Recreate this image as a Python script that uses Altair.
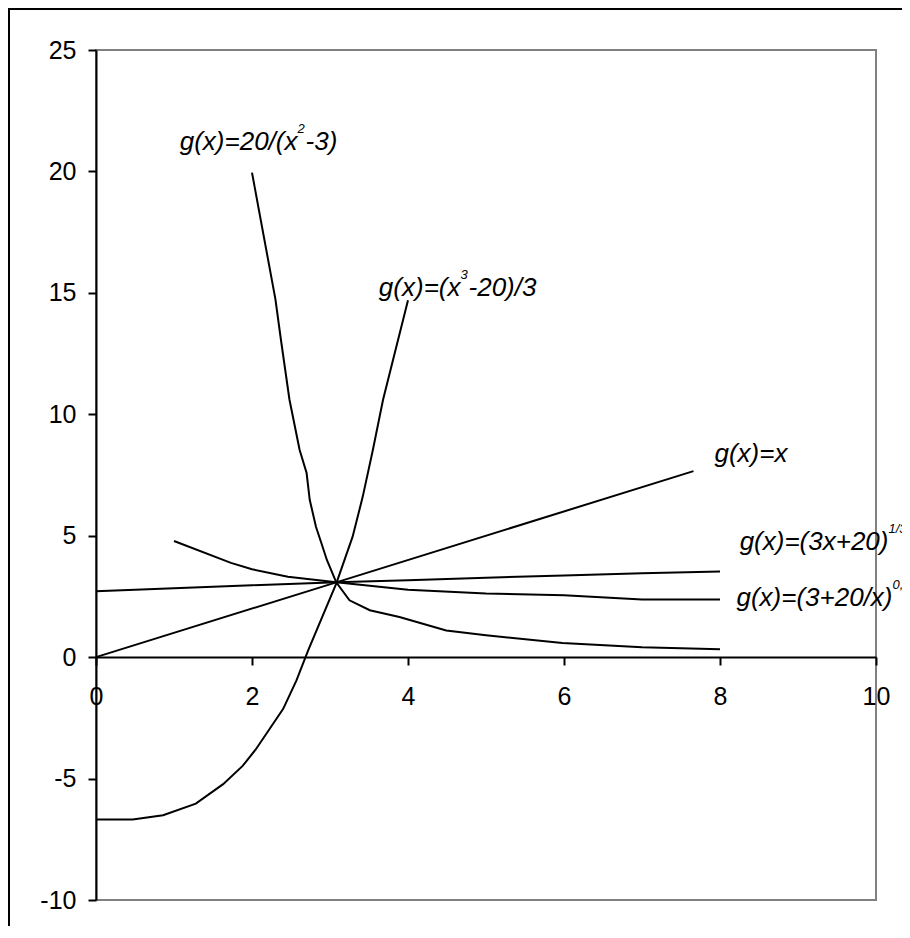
import altair as alt
import pandas as pd

# ---- data ----
gx_x = [0, 3.08, 7.66]
gx_y = [0, 3.08, 7.66]

cbrt_x = [0, 1, 2, 3, 3.08, 4, 5, 6, 7, 8]
cbrt_y = [2.71, 2.84, 2.96, 3.07, 3.08, 3.17, 3.27, 3.36, 3.45, 3.53]

sqrt_x = [1, 1.73, 2, 2.46, 3.08, 4, 5, 6, 7, 8]
sqrt_y = [4.78, 3.88, 3.62, 3.31, 3.08, 2.78, 2.62, 2.55, 2.37, 2.37]

rat_x = [2.0, 2.30, 2.37, 2.48, 2.61, 2.70, 2.74, 2.82, 2.89, 2.96, 3.08,
         3.25, 3.51, 3.89, 4.49, 5.0, 5.98, 7.0, 8.0]
rat_y = [19.95, 14.74, 13.09, 10.61, 8.54, 7.58, 6.48, 5.37, 4.69, 4.0, 3.08,
         2.34, 1.93, 1.65, 1.10, 0.90, 0.58, 0.41, 0.32]

cub_x = [0, 0.47, 0.86, 1.28, 1.63, 1.88, 2.05, 2.40, 2.57, 2.72, 3.08,
         3.29, 3.42, 3.55, 3.68, 4.0]
cub_y = [-6.69, -6.69, -6.51, -6.03, -5.23, -4.48, -3.79, -2.13, -0.96, 0.28, 3.03,
         4.96, 6.61, 8.54, 10.6, 14.7]

x_ticks = [0, 2, 4, 6, 8, 10]
y_ticks = [-10, -5, 0, 5, 10, 15, 20, 25]

# annotation texts (main part, superscript, rest) and their anchors in data units
lab_main = ["g(x)=20/(x", "g(x)=(x", "g(x)=x", "g(x)=(3x+20)", "g(x)=(3+20/x)"]
lab_sup = ["2", "3", "", "1/3", "0,5"]
lab_rest = ["-3)", "-20)/3", "", "", ""]
lab_anchor_x = [2.583, 4.673, 7.929, 10.16, 10.212]
lab_anchor_y = [20.90, 14.86, 8.05, 4.41, 2.095]
lab_rest_x = [2.686, 4.776, 0, 0, 0]
lab_main_align = ["right", "right", "left", "right", "right"]

rows = []
for name, xs_, ys_ in [("x", gx_x, gx_y), ("cbrt", cbrt_x, cbrt_y), ("sqrt", sqrt_x, sqrt_y),
                       ("rat", rat_x, rat_y), ("cub", cub_x, cub_y)]:
    for a, b in zip(xs_, ys_):
        rows.append({"series": name, "x": a, "y": b})
df = pd.DataFrame(rows)

main_df = pd.DataFrame({"t": lab_main, "x": lab_anchor_x, "y": lab_anchor_y, "al": lab_main_align})
sup_df = pd.DataFrame({"t": lab_sup, "x": lab_anchor_x, "y": lab_anchor_y})
sup_df = sup_df[sup_df.t != ""]
rest_df = pd.DataFrame({"t": lab_rest, "x": lab_rest_x, "y": lab_anchor_y})
rest_df = rest_df[rest_df.t != ""]

FONT = "Liberation Sans"

xs = alt.Scale(domain=[0, 10], nice=False, zero=False)
ys = alt.Scale(domain=[-10, 25], nice=False, zero=False)

lines = alt.Chart(df).mark_line(color="black", strokeWidth=2).encode(
    x=alt.X("x:Q", scale=xs, title=None,
            axis=alt.Axis(values=x_ticks, offset=-243, grid=False, labelFlush=False,
                          labelOverlap=False, tickSize=8, labelPadding=19,
                          labelExpr="'' + datum.value")),
    y=alt.Y("y:Q", scale=ys, title=None,
            axis=alt.Axis(values=y_ticks, grid=False, labelOverlap=False, tickSize=8,
                          labelPadding=12, labelExpr="'' + datum.value")),
    detail="series:N",
)

def txt(d, align, size, dy):
    return alt.Chart(d).mark_text(align=align, baseline="alphabetic", font=FONT,
                                  fontStyle="italic", fontSize=size, dy=dy, color="black").encode(
        x=alt.X("x:Q", scale=xs), y=alt.Y("y:Q", scale=ys), text="t:N")

main_r = txt(main_df[main_df.al == "right"], "right", 26, 0)
main_l = txt(main_df[main_df.al == "left"], "left", 26, 0)
sups = txt(sup_df, "left", 13, -17)
rests = txt(rest_df, "left", 26, 0)

one = pd.DataFrame({"k": [0]})
frame_left = alt.Chart(one).mark_rule(color="black", strokeWidth=2).encode(
    x=alt.value(-87), y=alt.value(-41), y2=alt.value(1000))
frame_top = alt.Chart(one).mark_rule(color="black", strokeWidth=2).encode(
    x=alt.value(-88), x2=alt.value(1000), y=alt.value(-41))

chart = alt.layer(frame_left, frame_top, lines, main_r, main_l, sups, rests).properties(
    width=780, height=850,
    autosize=alt.AutoSizeParams(type="none"),
    padding={"left": 88, "top": 42, "right": 26, "bottom": 26},
).configure_view(stroke="#808080", strokeWidth=2).configure_axis(
    domainColor="black", domainWidth=2, tickColor="black", tickWidth=2,
    labelFont=FONT, labelFontSize=25, labelColor="black",
)

chart.save("out.html", embed_options={"renderer": "svg", "actions": False})
